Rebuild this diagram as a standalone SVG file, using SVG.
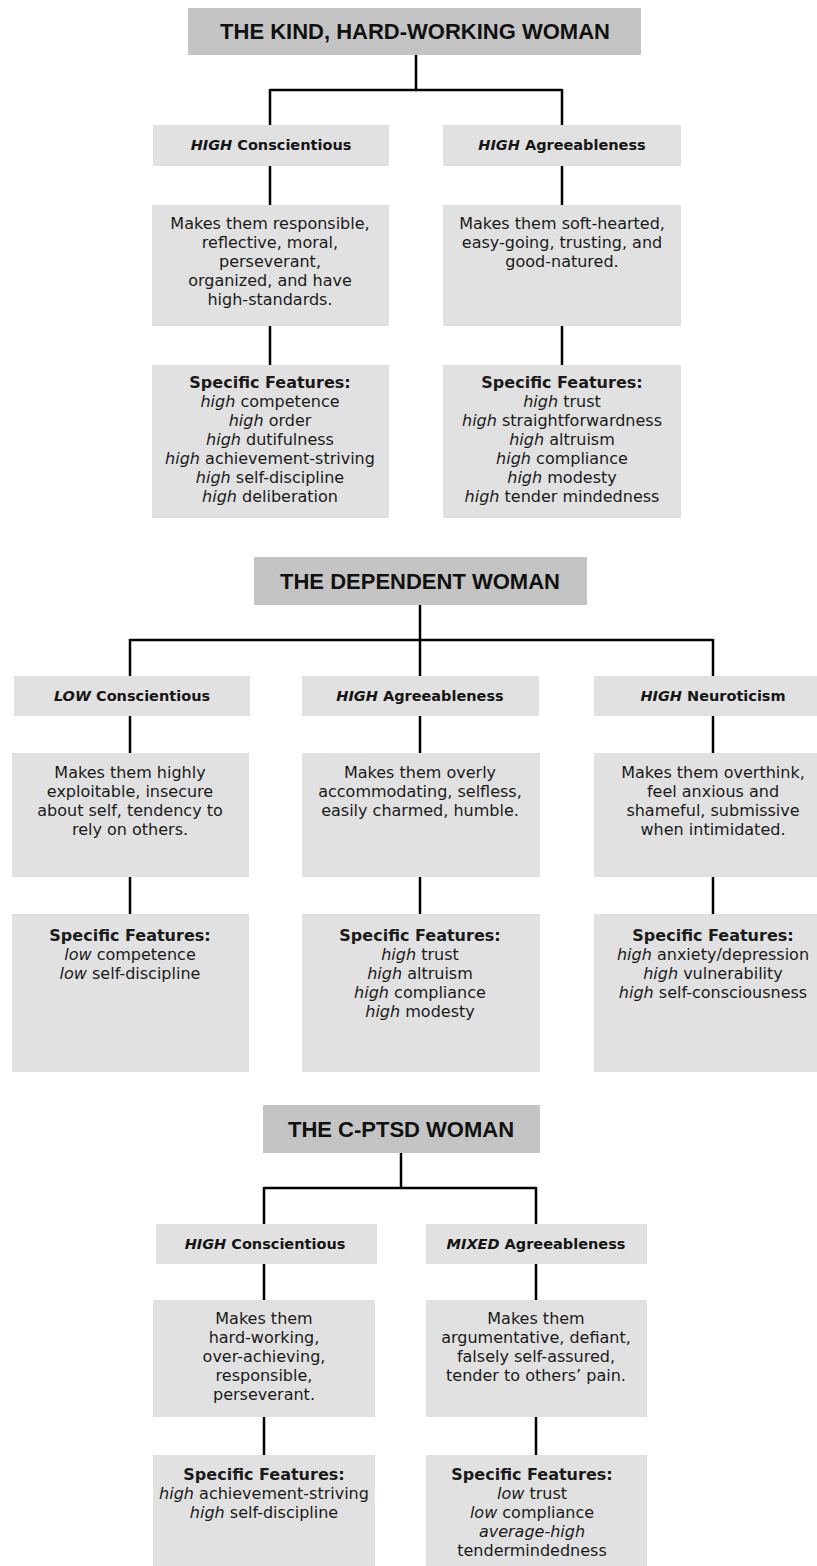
<svg xmlns="http://www.w3.org/2000/svg" width="817" height="1566" viewBox="0 0 817 1566">
<style>
.tb{fill:#c4c4c4}
.bx{fill:#e1e1e1}
.t{font-family:"Liberation Sans",Arial,sans-serif;font-weight:bold;font-size:22px;fill:#111;text-anchor:middle}
.c{font-family:"DejaVu Sans",sans-serif;font-weight:bold;font-size:14.5px;fill:#151515;text-anchor:middle}
.d{font-family:"DejaVu Sans",sans-serif;font-size:16px;fill:#1a1a1a;text-anchor:middle}
.h{font-weight:bold}
.i{font-style:italic}
.ln{fill:none;stroke:#000;stroke-width:2.5}
</style>
<rect width="817" height="1566" fill="#fff"/>
<g id="connectors">
<path class="ln" d="M416 55V90M270 90H562M270 89V125M562 89V125M270 166V205M562 166V205M270 326V365M562 326V365"/>
<path class="ln" d="M420 605V640M130 640H713M130 639V676M420 639V676M713 639V676M130 716V753M420 716V753M713 716V753M130 877V914M420 877V914M713 877V914"/>
<path class="ln" d="M401 1153V1188M264 1188H536M264 1187V1224M536 1187V1224M264 1264V1300M536 1264V1300M264 1417V1455M536 1417V1455"/>
</g>
<!-- Section 1 -->
<g id="title1"><rect class="tb" x="188" y="8" width="453" height="47"/><text class="t" x="415" y="39">THE KIND, HARD-WORKING WOMAN</text></g>
<g id="s1-cat-left"><rect class="bx" x="153" y="125" width="236" height="41"/><text class="c" x="271" y="150"><tspan class="i">HIGH</tspan> Conscientious</text></g>
<g id="s1-cat-right"><rect class="bx" x="443" y="125" width="238" height="41"/><text class="c" x="562" y="150"><tspan class="i">HIGH</tspan> Agreeableness</text></g>
<g id="s1-desc-left"><rect class="bx" x="152" y="205" width="237" height="121"/>
<text class="d" x="270" y="229">Makes them responsible,</text>
<text class="d" x="270" y="248">reflective, moral,</text>
<text class="d" x="270" y="267">perseverant,</text>
<text class="d" x="270" y="286">organized, and have</text>
<text class="d" x="270" y="305">high-standards.</text></g>
<g id="s1-desc-right"><rect class="bx" x="443" y="205" width="238" height="121"/>
<text class="d" x="562" y="229">Makes them soft-hearted,</text>
<text class="d" x="562" y="248">easy-going, trusting, and</text>
<text class="d" x="562" y="267">good-natured.</text></g>
<g id="s1-feat-left"><rect class="bx" x="152" y="365" width="237" height="153"/>
<text class="d h" x="270" y="388">Specific Features:</text>
<text class="d" x="270" y="407"><tspan class="i">high</tspan> competence</text>
<text class="d" x="270" y="426"><tspan class="i">high</tspan> order</text>
<text class="d" x="270" y="445"><tspan class="i">high</tspan> dutifulness</text>
<text class="d" x="270" y="464"><tspan class="i">high</tspan> achievement-striving</text>
<text class="d" x="270" y="483"><tspan class="i">high</tspan> self-discipline</text>
<text class="d" x="270" y="502"><tspan class="i">high</tspan> deliberation</text></g>
<g id="s1-feat-right"><rect class="bx" x="443" y="365" width="238" height="153"/>
<text class="d h" x="562" y="388">Specific Features:</text>
<text class="d" x="562" y="407"><tspan class="i">high</tspan> trust</text>
<text class="d" x="562" y="426"><tspan class="i">high</tspan> straightforwardness</text>
<text class="d" x="562" y="445"><tspan class="i">high</tspan> altruism</text>
<text class="d" x="562" y="464"><tspan class="i">high</tspan> compliance</text>
<text class="d" x="562" y="483"><tspan class="i">high</tspan> modesty</text>
<text class="d" x="562" y="502"><tspan class="i">high</tspan> tender mindedness</text></g>
<!-- Section 2 -->
<g id="title2"><rect class="tb" x="254" y="557" width="333" height="48"/><text class="t" x="420" y="589">THE DEPENDENT WOMAN</text></g>
<g id="s2-cat-left"><rect class="bx" x="14" y="676" width="236" height="40"/><text class="c" x="132" y="701"><tspan class="i">LOW</tspan> Conscientious</text></g>
<g id="s2-cat-mid"><rect class="bx" x="302" y="676" width="237" height="40"/><text class="c" x="420" y="701"><tspan class="i">HIGH</tspan> Agreeableness</text></g>
<g id="s2-cat-right"><rect class="bx" x="594" y="676" width="223" height="40"/><text class="c" x="713" y="701"><tspan class="i">HIGH</tspan> Neuroticism</text></g>
<g id="s2-desc-left"><rect class="bx" x="12" y="753" width="237" height="124"/>
<text class="d" x="130" y="778">Makes them highly</text>
<text class="d" x="130" y="797">exploitable, insecure</text>
<text class="d" x="130" y="816">about self, tendency to</text>
<text class="d" x="130" y="835">rely on others.</text></g>
<g id="s2-desc-mid"><rect class="bx" x="302" y="753" width="238" height="124"/>
<text class="d" x="420" y="778">Makes them overly</text>
<text class="d" x="420" y="797">accommodating, selfless,</text>
<text class="d" x="420" y="816">easily charmed, humble.</text></g>
<g id="s2-desc-right"><rect class="bx" x="594" y="753" width="223" height="124"/>
<text class="d" x="713" y="778">Makes them overthink,</text>
<text class="d" x="713" y="797">feel anxious and</text>
<text class="d" x="713" y="816">shameful, submissive</text>
<text class="d" x="713" y="835">when intimidated.</text></g>
<g id="s2-feat-left"><rect class="bx" x="12" y="914" width="237" height="158"/>
<text class="d h" x="130" y="941">Specific Features:</text>
<text class="d" x="130" y="960"><tspan class="i">low</tspan> competence</text>
<text class="d" x="130" y="979"><tspan class="i">low</tspan> self-discipline</text></g>
<g id="s2-feat-mid"><rect class="bx" x="302" y="914" width="238" height="158"/>
<text class="d h" x="420" y="941">Specific Features:</text>
<text class="d" x="420" y="960"><tspan class="i">high</tspan> trust</text>
<text class="d" x="420" y="979"><tspan class="i">high</tspan> altruism</text>
<text class="d" x="420" y="998"><tspan class="i">high</tspan> compliance</text>
<text class="d" x="420" y="1017"><tspan class="i">high</tspan> modesty</text></g>
<g id="s2-feat-right"><rect class="bx" x="594" y="914" width="223" height="158"/>
<text class="d h" x="713" y="941">Specific Features:</text>
<text class="d" x="713" y="960"><tspan class="i">high</tspan> anxiety/depression</text>
<text class="d" x="713" y="979"><tspan class="i">high</tspan> vulnerability</text>
<text class="d" x="713" y="998"><tspan class="i">high</tspan> self-consciousness</text></g>
<!-- Section 3 -->
<g id="title3"><rect class="tb" x="263" y="1105" width="277" height="48"/><text class="t" x="401" y="1137">THE C-PTSD WOMAN</text></g>
<g id="s3-cat-left"><rect class="bx" x="156" y="1224" width="221" height="40"/><text class="c" x="265" y="1249"><tspan class="i">HIGH</tspan> Conscientious</text></g>
<g id="s3-cat-right"><rect class="bx" x="426" y="1224" width="221" height="40"/><text class="c" x="536" y="1249"><tspan class="i">MIXED</tspan> Agreeableness</text></g>
<g id="s3-desc-left"><rect class="bx" x="153" y="1300" width="222" height="117"/>
<text class="d" x="264" y="1324">Makes them</text>
<text class="d" x="264" y="1343">hard-working,</text>
<text class="d" x="264" y="1362">over-achieving,</text>
<text class="d" x="264" y="1381">responsible,</text>
<text class="d" x="264" y="1400">perseverant.</text></g>
<g id="s3-desc-right"><rect class="bx" x="426" y="1300" width="221" height="117"/>
<text class="d" x="536" y="1324">Makes them</text>
<text class="d" x="536" y="1343">argumentative, defiant,</text>
<text class="d" x="536" y="1362">falsely self-assured,</text>
<text class="d" x="536" y="1381">tender to others’ pain.</text></g>
<g id="s3-feat-left"><rect class="bx" x="153" y="1455" width="222" height="111"/>
<text class="d h" x="264" y="1480">Specific Features:</text>
<text class="d" x="264" y="1499"><tspan class="i">high</tspan> achievement-striving</text>
<text class="d" x="264" y="1518"><tspan class="i">high</tspan> self-discipline</text></g>
<g id="s3-feat-right"><rect class="bx" x="426" y="1455" width="221" height="111"/>
<text class="d h" x="532" y="1480">Specific Features:</text>
<text class="d" x="532" y="1499"><tspan class="i">low</tspan> trust</text>
<text class="d" x="532" y="1518"><tspan class="i">low</tspan> compliance</text>
<text class="d i" x="532" y="1537">average-high</text>
<text class="d" x="532" y="1556">tendermindedness</text></g>
</svg>
